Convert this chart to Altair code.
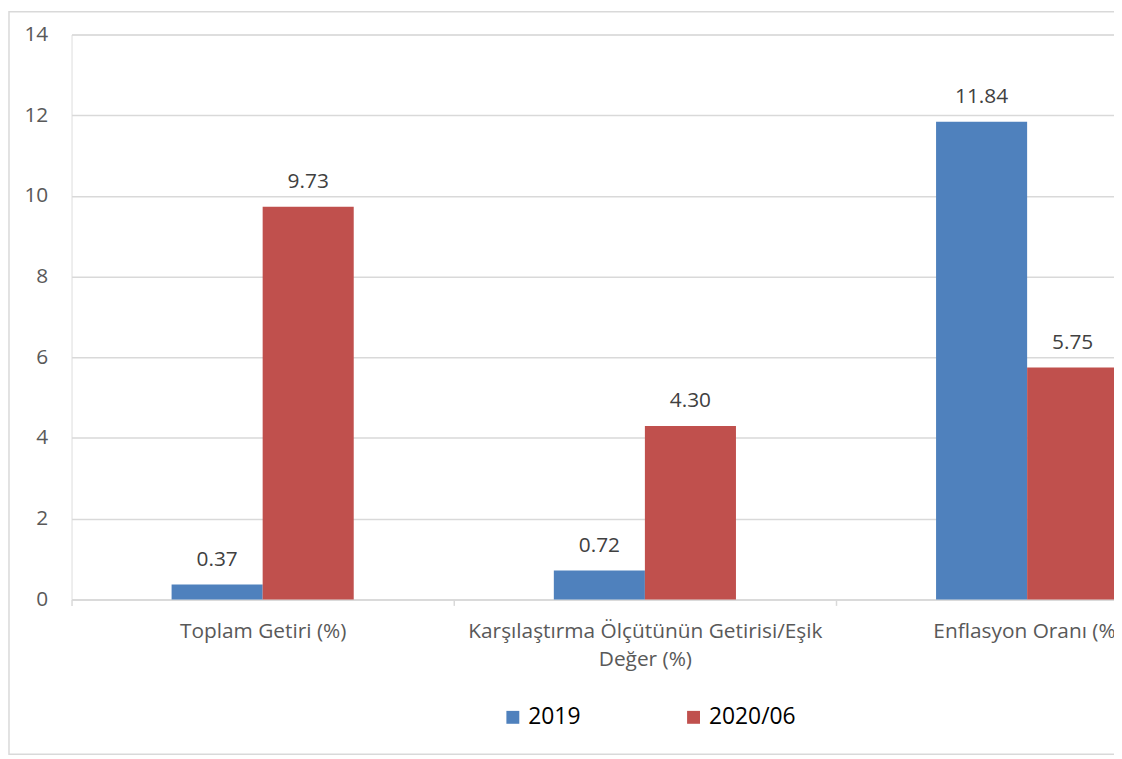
import altair as alt
import pandas as pd

categories = [
    "Toplam Getiri (%)",
    "Karşılaştırma Ölçütünün Getirisi/Eşik Değer (%)",
    "Enflasyon Oranı (%)",
]
series = ["2019", "2020/06"]
values_2019 = [0.37, 0.72, 11.84]
values_2020 = [9.73, 4.30, 5.75]
colors = ["#4F81BD", "#C0504D"]

rows = []
for c, a, b in zip(categories, values_2019, values_2020):
    rows.append({"Kategori": c, "Seri": series[0], "Değer": a})
    rows.append({"Kategori": c, "Seri": series[1], "Değer": b})
df = pd.DataFrame(rows)

FONT = "Open Sans"
PLOT_W = 1050
FULL_RANGE = 1155
PI = 0.047

label_expr = (
    "datum.label == 'Karşılaştırma Ölçütünün Getirisi/Eşik Değer (%)' ? "
    "['Karşılaştırma Ölçütünün Getirisi/Eşik', 'Değer (%)'] : datum.label"
)

x_enc = alt.X(
    "Kategori:N",
    sort=categories,
    title=None,
    scale=alt.Scale(range=[0, FULL_RANGE], paddingInner=PI, paddingOuter=PI / 2),
    axis=alt.Axis(
        bandPosition=0,
        tickOffset=-9,
        labelOffset=9,
        labelAngle=0,
        labelExpr=label_expr,
        labelFontSize=21,
        labelColor="#595959",
        labelFont=FONT,
        labelLimit=500,
        labelPadding=15,
        labelLineHeight=29,
        labelBaseline="top",
        domainColor="#d9d9d9",
        domainWidth=1.5,
        tickColor="#d9d9d9",
        tickWidth=1.5,
        tickSize=6,
        grid=False,
    ),
)
xo_enc = alt.XOffset("Seri:N", sort=series, scale=alt.Scale(paddingOuter=1, paddingInner=0))
y_scale = alt.Scale(domain=[0, 14], nice=False)

bars = alt.Chart(df).mark_bar(clip=False).encode(
    x=x_enc,
    xOffset=xo_enc,
    y=alt.Y(
        "Değer:Q",
        scale=y_scale,
        title=None,
        axis=alt.Axis(
            values=[0, 2, 4, 6, 8, 10, 12, 14],
            domain=False,
            ticks=False,
            gridColor="#d9d9d9",
            gridWidth=1.5,
            labelFontSize=21,
            labelColor="#595959",
            labelFont=FONT,
            labelPadding=24,
        ),
    ),
    color=alt.Color(
        "Seri:N",
        sort=series,
        scale=alt.Scale(domain=series, range=colors),
        legend=alt.Legend(
            title=None,
            orient="none",
            direction="horizontal",
            legendX=433,
            legendY=676,
            symbolType="square",
            symbolSize=169,
            symbolStrokeWidth=0,
            symbolOpacity=1,
            labelFontSize=23,
            labelColor="#000000",
            labelFont=FONT,
            labelOffset=4,
            columnPadding=102,
            padding=0,
        ),
    ),
)

labels = alt.Chart(df).mark_text(
    dy=-25, fontSize=21, color="#404040", font=FONT, baseline="middle"
).encode(
    x=alt.X("Kategori:N", sort=categories),
    xOffset=alt.XOffset("Seri:N", sort=series),
    y=alt.Y("Değer:Q", scale=y_scale),
    text=alt.Text("Değer:Q", format=".2f"),
)

border = alt.Chart(pd.DataFrame({"k": [0]})).mark_rect(
    fill=None, stroke="#d9d9d9", strokeWidth=1.5
).encode(
    x=alt.value(-63),
    x2=alt.value(PLOT_W + 20),
    y=alt.value(-23),
    y2=alt.value(725),
)

chart = (
    alt.layer(border, bars, labels)
    .properties(
        width=PLOT_W,
        height=569,
        autosize=alt.AutoSizeParams(type="none"),
        padding={"left": 64, "top": 24, "right": 0, "bottom": 157},
    )
    .configure_view(stroke=None)
    .configure(font=FONT)
)

chart.save("out.html", embed_options={"renderer": "svg", "actions": False})
